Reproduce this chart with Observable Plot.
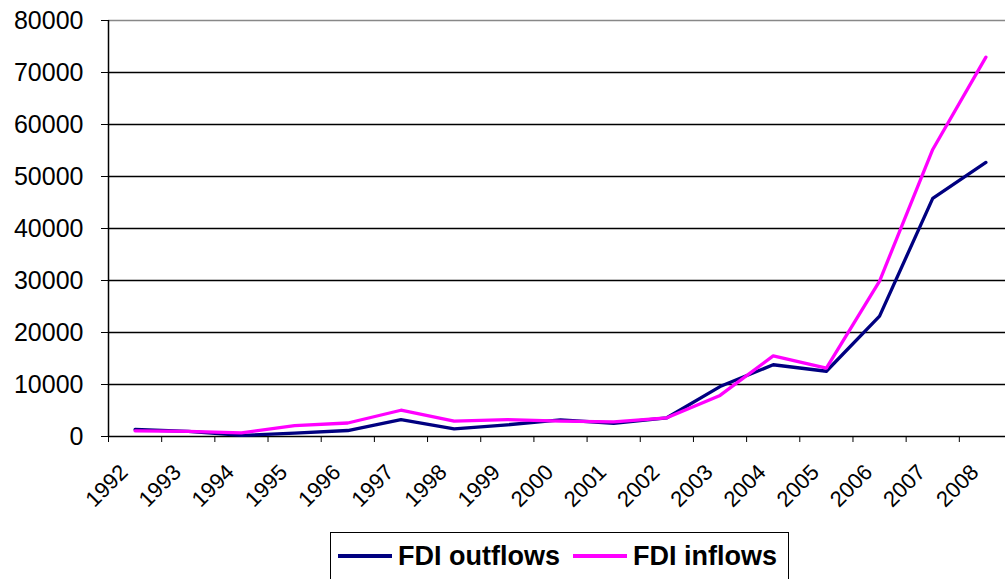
<!DOCTYPE html>
<html><head><meta charset="utf-8">
<script src="https://cdn.jsdelivr.net/npm/d3@7"></script>
<script src="https://cdn.jsdelivr.net/npm/@observablehq/plot@0.6"></script>
<style>
html,body{margin:0;padding:0;background:#fff;overflow:hidden;}
body{font-family:"Liberation Sans",Arial,sans-serif;width:1005px;height:579px;position:relative;}
#legend{position:absolute;left:330px;top:532px;width:459px;height:60px;border:1.5px solid #000;box-sizing:border-box;background:#fff;}
#legend .item{position:absolute;top:0;height:46px;display:flex;align-items:center;font-weight:bold;font-size:27px;color:#000;white-space:nowrap;}
#legend .swatch{display:inline-block;height:3.5px;width:54px;margin-right:6px;}
</style></head><body>
<div id="chart"></div>
<div id="legend"></div>
<script>
const years = [1992,1993,1994,1995,1996,1997,1998,1999,2000,2001,2002,2003,2004,2005,2006,2007,2008];
const outflows = [1350,1000,200,650,1150,3250,1450,2250,3200,2550,3600,9600,13800,12550,23150,45800,52700];
const inflows  = [1100,1000,700,2100,2600,5050,2950,3250,2950,2800,3600,7900,15500,13150,29900,55200,72950];
const yTicks = [0,10000,20000,30000,40000,50000,60000,70000,80000];
const seriesNames = ["FDI outflows","FDI inflows"];
const seriesColors = ["#000080","#ff00ff"];

const data = years.flatMap((yr,i)=>[
  {year:yr, value:outflows[i], series:seriesNames[0]},
  {year:yr, value:inflows[i], series:seriesNames[1]}
]);
const boundaries = years.map(y=>y-0.5);

const chart = Plot.plot({
  width:1005, height:526,
  marginTop:20, marginLeft:108, marginRight:0, marginBottom:90,
  style:{fontFamily:"'Liberation Sans', Arial, sans-serif", background:"#fff", color:"#000"},
  x:{type:"linear", domain:[1991.5, 2008.5], range:[108,1012]},
  y:{domain:[0,80000], range:[436,20]},
  color:{domain:seriesNames, range:seriesColors},
  marks:[
    Plot.ruleY(yTicks.filter(d=>d>0 && d<80000), {stroke:"#000", strokeWidth:1.4}),
    Plot.ruleY([80000], {stroke:"#888", strokeWidth:1.4}),
    Plot.axisY({ticks:yTicks, tickSize:7, tickPadding:18, tickFormat:d3.format("d"), fontSize:25, label:null, stroke:"#000"}),
    Plot.axisX({ticks:boundaries, tickSize:6, tickFormat:()=>"", label:null, stroke:"#000"}),
    Plot.text(years, {x:d=>d, y:0, text:d=>String(d), rotate:-45, textAnchor:"end", lineAnchor:"top", dx:-17, dy:26, fontSize:22, fill:"#000"}),
    Plot.ruleX([1991.5], {y1:0, y2:80000, stroke:"#000", strokeWidth:1.5}),
    Plot.ruleY([0], {stroke:"#000", strokeWidth:1.5}),
    Plot.line(data, {x:"year", y:"value", z:"series", stroke:"series", strokeWidth:3.3})
  ]
});
document.getElementById("chart").appendChild(chart);

const legend = document.getElementById("legend");
const lefts = [7, 242];
seriesNames.forEach((name,i)=>{
  const it = document.createElement("div");
  it.className = "item";
  it.style.left = lefts[i] + "px";
  const sw = document.createElement("span");
  sw.className = "swatch";
  sw.style.background = seriesColors[i];
  it.appendChild(sw);
  const t = document.createElement("span");
  t.textContent = name;
  it.appendChild(t);
  legend.appendChild(it);
});
</script>
</body></html>
